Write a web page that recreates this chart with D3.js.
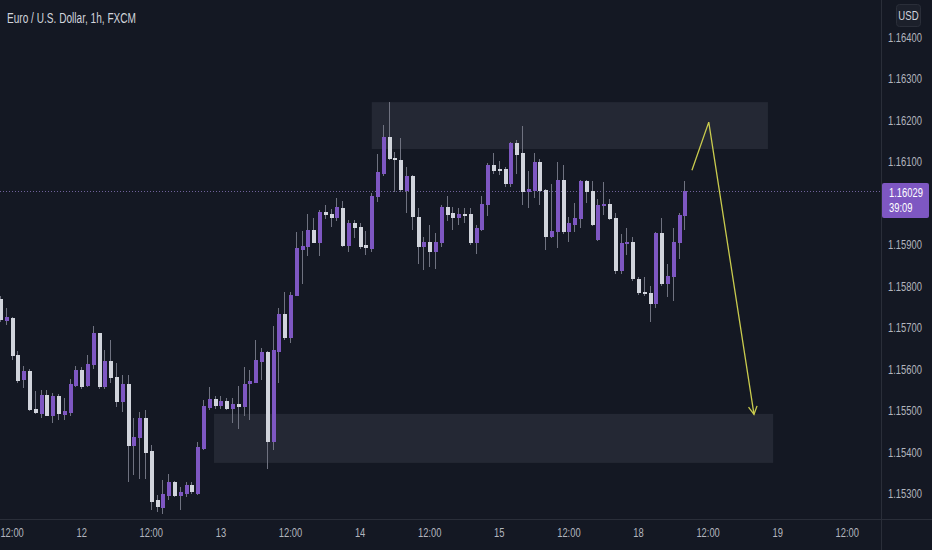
<!DOCTYPE html>
<html>
<head>
<meta charset="utf-8">
<script src="https://cdn.jsdelivr.net/npm/d3@7"></script>
<style>
  html, body { margin: 0; padding: 0; background: #141823; }
  svg { display: block; }
</style>
</head>
<body>
<div id="chart"></div>
<script>
// EUR/USD 1h, FXCM — candles (index = hourly bar, weekend gap removed)
const open = [
  1.15768,1.15716,1.15724,1.15633,1.15573,1.15595,1.15503,1.15491,1.15538,1.15486,
  1.15535,1.15489,1.15494,1.15560,1.15597,1.15559,1.15609,1.15686,1.15556,1.15620,
  1.15581,1.15521,1.15563,1.15414,1.15434,1.15481,1.15403,1.15284,1.15265,1.15294,
  1.15328,1.15294,1.15300,1.15320,1.15300,1.15408,1.15507,1.15527,1.15511,1.15523,
  1.15504,1.15515,1.15509,1.15563,1.15567,1.15617,1.15641,1.15425,1.15641,1.15732,
  1.15674,1.15776,1.15888,1.15895,1.15935,1.15904,1.15979,1.15973,1.15965,1.15989,
  1.15896,1.15951,1.15943,1.15898,1.15889,1.16015,1.16071,1.16160,1.16109,1.16103,
  1.16029,1.16064,1.15967,1.15895,1.15907,1.15881,1.15903,1.15991,1.15975,1.15963,
  1.15973,1.15973,1.15903,1.15936,1.15995,1.16092,1.16081,1.16081,1.16047,1.16144,
  1.16120,1.16027,1.16030,1.16099,1.16031,1.15919,1.15931,1.16056,1.15931,1.15947,
  1.15961,1.16054,1.16030,1.15911,1.15992,1.15998,1.15963,1.15837,1.15901,1.15907,
  1.15818,1.15786,1.15784,1.15756,1.15927,1.15805,1.15822,1.15904,1.15968
];
const high = [
  1.15776,1.15747,1.15726,1.15643,1.15607,1.15601,1.15547,1.15549,1.15549,1.15543,
  1.15539,1.15531,1.15575,1.15607,1.15604,1.15633,1.15703,1.15687,1.15647,1.15670,
  1.15615,1.15585,1.15585,1.15481,1.15497,1.15501,1.15417,1.15296,1.15332,1.15348,
  1.15330,1.15317,1.15328,1.15328,1.15425,1.15525,1.15556,1.15535,1.15535,1.15530,
  1.15530,1.15559,1.15606,1.15597,1.15670,1.15650,1.15643,1.15703,1.15746,1.15786,
  1.15786,1.15931,1.15933,1.15973,1.15965,1.15983,1.15995,1.15985,1.16011,1.16005,
  1.15958,1.15959,1.15951,1.15932,1.16023,1.16117,1.16188,1.16244,1.16123,1.16156,
  1.16087,1.16068,1.15987,1.15919,1.15947,1.15927,1.15995,1.16017,1.15991,1.15987,
  1.15989,1.15987,1.15947,1.16017,1.16097,1.16120,1.16102,1.16087,1.16148,1.16153,
  1.16186,1.16076,1.16121,1.16107,1.16035,1.16046,1.16099,1.16092,1.15967,1.15999,
  1.16056,1.16056,1.16054,1.16009,1.16051,1.16009,1.15975,1.15925,1.15939,1.15917,
  1.15822,1.15821,1.15800,1.15931,1.15963,1.15853,1.15939,1.15976,1.16054
];
const low = [
  1.15713,1.15706,1.15621,1.15567,1.15555,1.15498,1.15491,1.15482,1.15486,1.15469,
  1.15477,1.15477,1.15486,1.15557,1.15553,1.15557,1.15600,1.15551,1.15553,1.15566,
  1.15509,1.15497,1.15328,1.15344,1.15336,1.15336,1.15260,1.15255,1.15250,1.15284,
  1.15291,1.15260,1.15292,1.15300,1.15296,1.15404,1.15501,1.15505,1.15503,1.15501,
  1.15469,1.15455,1.15486,1.15477,1.15566,1.15573,1.15360,1.15404,1.15567,1.15670,
  1.15663,1.15775,1.15805,1.15872,1.15903,1.15872,1.15961,1.15943,1.15956,1.15893,
  1.15883,1.15915,1.15889,1.15876,1.15883,1.16003,1.16066,1.16103,1.16027,1.16027,
  1.15975,1.15935,1.15853,1.15838,1.15846,1.15842,1.15895,1.15956,1.15935,1.15947,
  1.15951,1.15898,1.15878,1.15933,1.15968,1.16071,1.16068,1.16039,1.16039,1.16071,
  1.15995,1.15987,1.16011,1.15995,1.15886,1.15915,1.15891,1.15925,1.15907,1.15931,
  1.15939,1.15999,1.15944,1.15909,1.15971,1.15959,1.15829,1.15829,1.15875,1.15813,
  1.15778,1.15776,1.15714,1.15746,1.15800,1.15774,1.15764,1.15865,1.15935
];
const close = [
  1.15718,1.15726,1.15632,1.15571,1.15596,1.15501,1.15493,1.15538,1.15488,1.15536,
  1.15491,1.15499,1.15564,1.15597,1.15557,1.15612,1.15686,1.15556,1.15620,1.15578,
  1.15521,1.15563,1.15414,1.15437,1.15481,1.15398,1.15280,1.15267,1.15300,1.15328,
  1.15294,1.15304,1.15320,1.15303,1.15412,1.15511,1.15527,1.15511,1.15523,1.15503,
  1.15516,1.15509,1.15564,1.15571,1.15621,1.15641,1.15425,1.15645,1.15732,1.15674,
  1.15778,1.15891,1.15896,1.15935,1.15904,1.15979,1.15971,1.15965,1.15991,1.15896,
  1.15951,1.15939,1.15895,1.15891,1.16017,1.16074,1.16160,1.16106,1.16103,1.16031,
  1.16064,1.15967,1.15895,1.15907,1.15881,1.15906,1.15991,1.15971,1.15963,1.15973,
  1.15968,1.15903,1.15939,1.15998,1.16092,1.16078,1.16078,1.16047,1.16144,1.16116,
  1.16027,1.16033,1.16099,1.16030,1.15919,1.15933,1.16056,1.15931,1.15951,1.15963,
  1.16054,1.16027,1.15947,1.15995,1.15998,1.15961,1.15837,1.15904,1.15907,1.15816,
  1.15784,1.15781,1.15756,1.15928,1.15805,1.15824,1.15907,1.15971,1.16029
];

// time axis: label every 12 bars, first one at bar 2
const timeLabels = ["12:00","12","12:00","13","12:00","14","12:00","15","12:00","18","12:00","19","12:00"];
const timeTickStart = 2, timeTickStep = 12;

// 1.16000 sits under the last-price label, so it is not printed
const priceTicks = [1.153,1.154,1.155,1.156,1.157,1.158,1.159,1.161,1.162,1.163,1.164];
const lastPrice = 1.16029;
const countdown = "39:09";

// drawn zones (bar index range, price range)
const zoneStart  = [64.1, 36.9];
const zoneEnd    = [132.4, 133.3];
const zoneTop    = [1.16243, 1.15492];
const zoneBottom = [1.16130, 1.15374];

// projection arrow
const arrowBar   = [119.3, 122.2, 130.0];
const arrowPrice = [1.16079, 1.16195, 1.15491];

const W = 932, H = 550;
const axisX = 881, axisY = 519;
const bg = '#141823', grid = '#2a2e39', textCol = '#b2b5be';
const upCol = '#7e57c2', downCol = '#d1d4dc', wickCol = '#6f7280';

const x = d3.scaleLinear().domain([0, 152]).range([0, 881.6]);
const y = d3.scaleLinear().domain([1.153, 1.164]).range([493.6, 37]);

const candles = open.map((o, i) => ({ i, o, h: high[i], l: low[i], c: close[i] }));

const svg = d3.select('#chart').append('svg')
  .attr('width', W).attr('height', H)
  .attr('viewBox', [0, 0, W, H])
  .style('background', bg)
  .style('font-family', '"Liberation Sans", Arial, sans-serif');

// squeeze text a bit, the reference font is narrow
function squeeze(sel, k) {
  sel.each(function () {
    const w = this.getComputedTextLength();
    this.setAttribute('textLength', w * k);
    this.setAttribute('lengthAdjust', 'spacingAndGlyphs');
  });
}

const plot = svg.append('g');
plot.append('clipPath').attr('id', 'clip')
  .append('rect').attr('width', axisX).attr('height', axisY);
const area = plot.append('g').attr('clip-path', 'url(#clip)');

// zones
area.selectAll('rect.zone')
  .data(zoneStart.map((s, k) => ({ s, e: zoneEnd[k], t: zoneTop[k], b: zoneBottom[k] })))
  .join('rect')
  .attr('class', 'zone')
  .attr('x', d => x(d.s))
  .attr('y', d => y(d.t))
  .attr('width', d => x(d.e) - x(d.s))
  .attr('height', d => y(d.b) - y(d.t))
  .attr('fill', 'rgba(120,123,134,0.17)');

// last price dotted line
area.append('line')
  .attr('x1', 0).attr('x2', axisX)
  .attr('y1', Math.round(y(lastPrice)) + 0.5).attr('y2', Math.round(y(lastPrice)) + 0.5)
  .attr('stroke', '#8d7bc4').attr('stroke-opacity', 0.75)
  .attr('stroke-dasharray', '1,2');

// candles
const cg = area.append('g').attr('shape-rendering', 'crispEdges');
cg.selectAll('line.wick').data(candles).join('line')
  .attr('class', 'wick')
  .attr('x1', d => Math.round(x(d.i)) + 0.5).attr('x2', d => Math.round(x(d.i)) + 0.5)
  .attr('y1', d => y(d.h)).attr('y2', d => y(d.l))
  .attr('stroke', wickCol).attr('stroke-width', 1);

cg.selectAll('rect.body').data(candles).join('rect')
  .attr('class', 'body')
  .attr('x', d => Math.round(x(d.i)) - 1.5)
  .attr('width', 4)
  .attr('y', d => y(Math.max(d.o, d.c)))
  .attr('height', d => Math.max(1, Math.abs(y(d.o) - y(d.c))))
  .attr('fill', d => d.c >= d.o ? upCol : downCol);

// arrow
const ap = arrowBar.map((b, k) => [x(b), y(arrowPrice[k])]);
const arrowCol = '#c9cb4e';
area.append('polyline')
  .attr('points', ap.map(p => p.join(',')).join(' '))
  .attr('fill', 'none').attr('stroke', arrowCol).attr('stroke-width', 1.3);
{
  const [x1, y1] = ap[ap.length - 2], [x2, y2] = ap[ap.length - 1];
  const ang = Math.atan2(y2 - y1, x2 - x1), len = 9, spread = 0.5;
  const head = [
    [x2 - len * Math.cos(ang - spread), y2 - len * Math.sin(ang - spread)],
    [x2, y2],
    [x2 - len * Math.cos(ang + spread), y2 - len * Math.sin(ang + spread)]
  ];
  area.append('polyline')
    .attr('points', head.map(p => p.join(',')).join(' '))
    .attr('fill', 'none').attr('stroke', arrowCol).attr('stroke-width', 1.3);
}

// axis borders
svg.append('line').attr('x1', axisX + 0.5).attr('x2', axisX + 0.5).attr('y1', 0).attr('y2', H)
  .attr('stroke', grid);
svg.append('line').attr('x1', 0).attr('x2', W).attr('y1', axisY + 0.5).attr('y2', axisY + 0.5)
  .attr('stroke', grid);

// price axis
const yAxis = d3.axisRight(y).tickValues(priceTicks).tickFormat(d3.format('.5f')).tickSize(0).tickPadding(7);
const gY = svg.append('g')
  .attr('transform', `translate(${axisX},0)`)
  .call(yAxis)
  .call(g => g.select('.domain').remove());
gY.selectAll('text').attr('fill', textCol).style('font-size', '12px').attr('dy', '0.35em');
squeeze(gY.selectAll('text'), 0.78);

// time axis
const timeIdx = timeLabels.map((_, k) => timeTickStart + k * timeTickStep);
const xAxis = d3.axisBottom(x).tickValues(timeIdx).tickFormat((d, k) => timeLabels[k]).tickSize(0).tickPadding(9);
const gX = svg.append('g')
  .attr('transform', `translate(0,${axisY})`)
  .call(xAxis)
  .call(g => g.select('.domain').remove());
gX.selectAll('text').attr('fill', textCol).style('font-size', '12px');
squeeze(gX.selectAll('text'), 0.78);

// last price label
const ly = y(lastPrice);
svg.append('rect')
  .attr('x', axisX + 1).attr('y', ly - 8).attr('width', 47).attr('height', 35)
  .attr('rx', 2).attr('fill', upCol);
const lt1 = svg.append('text').attr('x', axisX + 8).attr('y', ly + 6)
  .attr('fill', '#ffffff').style('font-size', '12px').text(d3.format('.5f')(lastPrice));
const lt2 = svg.append('text').attr('x', axisX + 8).attr('y', ly + 21)
  .attr('fill', '#ffffff').style('font-size', '12px').text(countdown);
squeeze(lt1, 0.78); squeeze(lt2, 0.78);

// currency badge
svg.append('rect').attr('x', 896.5).attr('y', 4.5).attr('width', 24).attr('height', 22)
  .attr('rx', 3).attr('fill', '#1c202b').attr('stroke', '#2a2e39');
const usd = svg.append('text').attr('x', 908.5).attr('y', 20).attr('text-anchor', 'middle')
  .attr('fill', '#d1d4dc').style('font-size', '12px').text('USD');
squeeze(usd, 0.8);

// title
const title = svg.append('text').attr('x', 7).attr('y', 23)
  .attr('fill', '#d1d4dc').style('font-size', '14px')
  .text('Euro / U.S. Dollar, 1h, FXCM');
title.attr('textLength', 129).attr('lengthAdjust', 'spacingAndGlyphs');
</script>
</body>
</html>
